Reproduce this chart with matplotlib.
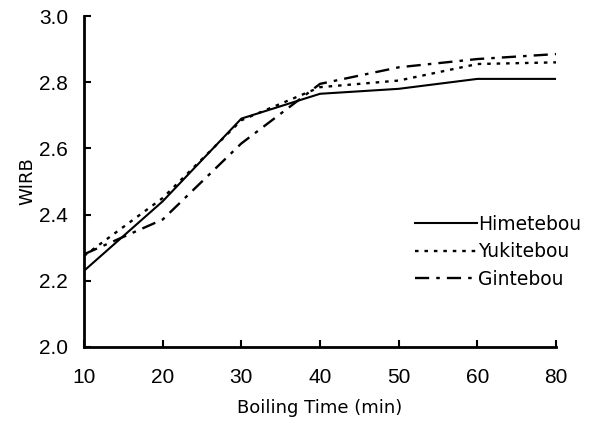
import matplotlib
matplotlib.use('Agg')
import matplotlib.pyplot as plt
import numpy as np

# data
times = ['10', '20', '30', '40', '50', '60', '80']
himetebou = [2.23, 2.44, 2.69, 2.765, 2.78, 2.81, 2.81]
yukitebou = [2.275, 2.45, 2.685, 2.785, 2.805, 2.855, 2.86]
gintebou = [2.28, 2.385, 2.615, 2.795, 2.845, 2.87, 2.885]

plt.rcParams['font.family'] = ['DejaVu Sans']

fig = plt.figure(figsize=(5.96, 4.22), dpi=100)
ax = fig.add_axes([0.141, 0.178, 0.792, 0.784])

x = np.arange(len(times))
ax.plot(x, himetebou, color='black', linewidth=1.5, linestyle='-', label='Himetebou')
ax.plot(x, yukitebou, color='black', linewidth=1.7, linestyle=(0, (1.5, 2.5)), label='Yukitebou')
ax.plot(x, gintebou, color='black', linewidth=1.7, linestyle=(0, (6, 3, 1.5, 3)), label='Gintebou')

ax.set_xlim(0, len(times) - 1)
ax.set_ylim(2.0, 3.0)
ax.set_xticks(x)
ax.set_xticklabels(times)
ax.set_yticks([2.0, 2.2, 2.4, 2.6, 2.8, 3.0])
ax.set_yticklabels(['2.0', '2.2', '2.4', '2.6', '2.8', '3.0'])
ax.tick_params(direction='in', length=5, width=1.5, pad=15)
ax.tick_params(axis='y', pad=11.5)
for lab in ax.get_xticklabels() + ax.get_yticklabels():
    lab.set_fontfamily('Liberation Sans')
    lab.set_fontsize(15)

for s in ['top', 'right']:
    ax.spines[s].set_visible(False)
for s in ['left', 'bottom']:
    ax.spines[s].set_linewidth(2)

ax.set_xlabel('Boiling Time (min)', fontsize=13, labelpad=9)
ax.set_ylabel('WIRB', fontsize=13, labelpad=2)

ax.legend(loc='center left', bbox_to_anchor=(415 / 596, 0.403), bbox_transform=fig.transFigure,
          frameon=False, fontsize=13.5, borderpad=0, borderaxespad=0,
          handlelength=3.3, handletextpad=0.05, labelspacing=0.45)

fig.savefig('out.png', dpi=100)
